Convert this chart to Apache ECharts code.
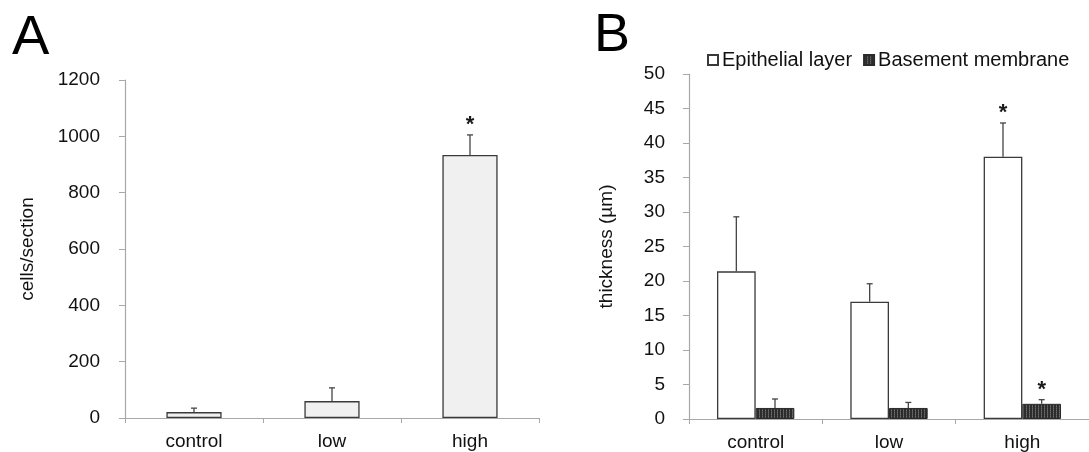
<!DOCTYPE html>
<html>
<head>
<meta charset="utf-8">
<script src="https://cdn.jsdelivr.net/npm/echarts@6/dist/echarts.min.js"></script>
<style>
  html, body { margin: 0; padding: 0; background: #fff; }
  #chart { width: 1089px; height: 452px; }
</style>
</head>
<body>
<div id="chart"></div>
<script>
// categories shared by both panels
var categories = ['control', 'low', 'high']

// panel A: cells/section
var cellsMean = [21, 60, 934]
var cellsErr = [14, 47, 71]
var cellsSig = ['', '', '*']

// panel B: thickness (µm)
var epiMean = [21.4, 17.0, 38.0]
var epiErr = [7.9, 2.6, 4.9]
var epiSig = ['', '', '*']
var bmMean = [1.6, 1.6, 2.2]
var bmErr = [1.3, 0.8, 0.6]
var bmSig = ['', '', '*']

var yTicksA = { min: 0, max: 1200, interval: 200 }
var yTicksB = { min: 0, max: 50, interval: 5 }

var font = 'Arial, "Liberation Sans", sans-serif'
var fs = 19
var axisGray = '#a8a8a8'
var edge = '#3a3a3a'

// hatched fill for basement membrane
function makePattern() {
  var c = document.createElement('canvas')
  c.width = 3
  c.height = 2
  var ctx = c.getContext('2d')
  ctx.fillStyle = '#2c2c2c'
  ctx.fillRect(0, 0, 3, 2)
  ctx.fillStyle = '#6e6e6e'
  ctx.fillRect(0, 0, 1, 1)
  ctx.fillStyle = '#555'
  ctx.fillRect(0, 1, 1, 1)
  return c
}
var bmFill = { image: makePattern(), repeat: 'repeat' }

// error bar (upper only) + significance mark
function errRender(means, errs, sig, offsetFrac) {
  return function (params, api) {
    var i = api.value(0)
    var band = api.size([1, 0])[0]
    var x = api.coord([i, 0])[0] + band * offsetFrac
    var y0 = api.coord([i, means[i]])[1]
    var y1 = api.coord([i, means[i] + errs[i]])[1]
    var st = { stroke: '#444', lineWidth: 1.3 }
    var kids = [
      { type: 'line', shape: { x1: x, y1: y0, x2: x, y2: y1 }, style: st },
      { type: 'line', shape: { x1: x - 3, y1: y1, x2: x + 3, y2: y1 }, style: st }
    ]
    if (sig[i]) {
      kids.push({
        type: 'text',
        style: {
          text: sig[i], x: x, y: y1 - 10,
          align: 'center', verticalAlign: 'middle',
          font: 'bold 22px ' + font, fill: '#1a1a1a'
        }
      })
    }
    return { type: 'group', children: kids }
  }
}

function xAxisFor(idx) {
  return {
    type: 'category',
    gridIndex: idx,
    data: categories,
    axisLine: { lineStyle: { color: axisGray, width: 1.2 } },
    axisTick: { show: true, length: 5, lineStyle: { color: axisGray } },
    axisLabel: { fontFamily: font, fontSize: fs, color: '#111', margin: 14 }
  }
}

function yAxisFor(idx, ticks, name, gap, margin) {
  return {
    type: 'value',
    gridIndex: idx,
    min: ticks.min,
    max: ticks.max,
    interval: ticks.interval,
    name: name,
    nameLocation: 'middle',
    nameRotate: 90,
    nameGap: gap,
    nameTextStyle: { fontFamily: font, fontSize: fs, color: '#111' },
    splitLine: { show: false },
    axisLine: { show: true, lineStyle: { color: axisGray, width: 1.2 } },
    axisTick: { show: true, length: 6, lineStyle: { color: axisGray } },
    axisLabel: {
      fontFamily: font, fontSize: fs, color: '#111', margin: margin,
      formatter: function (v) { return String(v) }
    }
  }
}

var chart = echarts.init(document.getElementById('chart'))

var option = {
  animation: false,
  backgroundColor: '#fff',
  title: [
    { text: 'A', left: 7, top: 6, textStyle: { fontFamily: font, fontSize: 56, fontWeight: 'normal', color: '#000' } },
    { text: 'B', left: 589, top: 4, textStyle: { fontFamily: font, fontSize: 54, fontWeight: 'normal', color: '#000' } }
  ],
  legend: {
    data: ['Epithelial layer', 'Basement membrane'],
    left: 702,
    top: 45,
    itemWidth: 10,
    itemHeight: 10,
    itemGap: 11,
    icon: 'rect',
    textStyle: { fontFamily: font, fontSize: 20, color: '#111', padding: [0, 0, 0, -1] }
  },
  grid: [
    { left: 125, top: 80, width: 414, bottom: 34 },
    { left: 689, top: 74, width: 411, bottom: 33 }
  ],
  xAxis: [xAxisFor(0), xAxisFor(1)],
  yAxis: [
    yAxisFor(0, yTicksA, 'cells/section', 88, 25),
    yAxisFor(1, yTicksB, 'thickness (µm)', 73, 24)
  ],
  series: [
    {
      name: 'cells',
      type: 'bar',
      xAxisIndex: 0,
      yAxisIndex: 0,
      data: cellsMean,
      barWidth: '40%',
      itemStyle: { color: '#f0f0f0', borderColor: edge, borderWidth: 1.3 }
    },
    {
      type: 'custom',
      xAxisIndex: 0,
      yAxisIndex: 0,
      z: 5,
      data: categories.map(function (c, i) { return [i, cellsMean[i] + cellsErr[i]] }),
      renderItem: errRender(cellsMean, cellsErr, cellsSig, 0)
    },
    {
      name: 'Epithelial layer',
      type: 'bar',
      xAxisIndex: 1,
      yAxisIndex: 1,
      data: epiMean,
      barWidth: '29%',
      barGap: '0%',
      itemStyle: { color: '#fff', borderColor: edge, borderWidth: 1.3 }
    },
    {
      name: 'Basement membrane',
      type: 'bar',
      xAxisIndex: 1,
      yAxisIndex: 1,
      data: bmMean,
      barWidth: '29%',
      barGap: '0%',
      itemStyle: { color: bmFill, borderColor: '#2a2a2a', borderWidth: 1 }
    },
    {
      type: 'custom',
      xAxisIndex: 1,
      yAxisIndex: 1,
      z: 5,
      data: categories.map(function (c, i) { return [i, epiMean[i] + epiErr[i]] }),
      renderItem: errRender(epiMean, epiErr, epiSig, -0.145)
    },
    {
      type: 'custom',
      xAxisIndex: 1,
      yAxisIndex: 1,
      z: 5,
      data: categories.map(function (c, i) { return [i, bmMean[i] + bmErr[i]] }),
      renderItem: errRender(bmMean, bmErr, bmSig, 0.145)
    }
  ]
}

chart.setOption(option)
</script>
</body>
</html>
